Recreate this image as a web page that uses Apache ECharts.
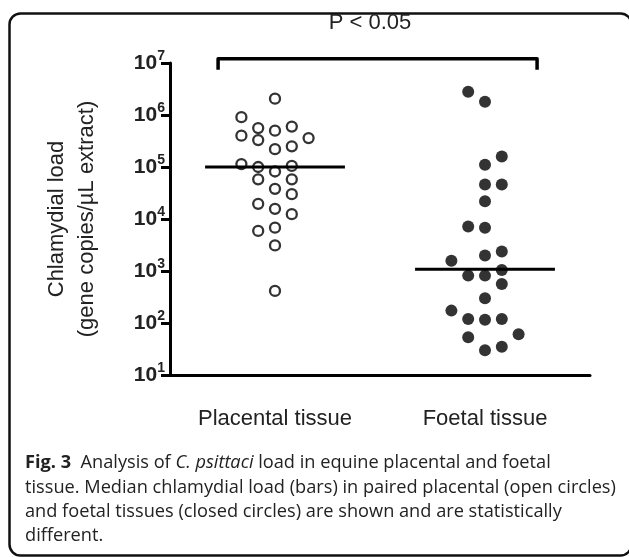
<!DOCTYPE html>
<html>
<head>
<meta charset="utf-8">
<script src="https://cdn.jsdelivr.net/npm/echarts@6/dist/echarts.min.js"></script>
<style>
html,body{margin:0;padding:0;background:#fff;}
#chart{width:629px;height:557px;}
</style>
</head>
<body>
<div id="chart"></div>
<script>
// ---- data ----
const categories = ['Placental tissue', 'Foetal tissue'];
// loads (gene copies/µL extract)
const placentalValues = [2.06e6, 9.1e5, 5.6e5, 5.0e5, 6.0e5, 4.0e5, 3.3e5, 3.6e5, 2.2e5, 2.5e5,
  1.14e5, 1.0e5, 8.2e4, 1.05e5, 5.8e4, 5.8e4, 3.8e4, 3.0e4, 1.96e4, 1.57e4, 1.24e4, 5.9e3, 6.8e3, 3.1e3, 414];
const placentalSlot = [0, -2, -1, 0, 1, -2, -1, 2, 0, 1, -2, -1, 0, 1, -1, 1, 0, 1, -1, 0, 1, -1, 0, 0, 0];
const foetalValues = [2.8e6, 1.8e6, 1.6e5, 1.1e5, 4.6e4, 4.6e4, 2.2e4, 7.2e3, 6.8e3, 1.58e3, 1.98e3, 2.36e3,
  815, 815, 1.05e3, 565, 299, 173, 120, 115, 120, 53, 61, 30, 35];
const foetalSlot = [-1, 0, 1, 0, 0, 1, 0, -1, 0, -2, 0, 1, -1, 0, 1, 1, 0, -2, -1, 0, 1, -1, 2, 0, 1];
const medians = [1.0e5, 1.08e3];
const yTickExponents = [1, 2, 3, 4, 5, 6, 7];
const pText = 'P < 0.05';

// ---- layout helpers ----
const slotWidth = 0.08;
const medianHalf = 0.333;
function pts(cat, vals, slots) { return vals.map((v, i) => [cat + slots[i] * slotWidth, v]); }

const chart = echarts.init(document.getElementById('chart'), null, {renderer: 'canvas'});
const font = '"Liberation Sans", Arial, sans-serif';
const capFont = '"Open Sans", "Noto Sans", sans-serif';
const capSize = 18.2;

const option = {
  animation: false,
  backgroundColor: '#fff',
  grid: {left: 170, top: 63, right: 39, bottom: 182, containLabel: false},
  xAxis: [
    {
      type: 'category', data: categories, boundaryGap: true,
      axisLine: {onZero: false, lineStyle: {color: '#000', width: 3}},
      axisTick: {alignWithLabel: true, length: 8, lineStyle: {color: '#000', width: 3}},
      axisLabel: {color: '#222', fontSize: 22, fontFamily: font, margin: 33},
      splitLine: {show: false}
    },
    {type: 'value', min: -0.5, max: 1.5, show: false}
  ],
  yAxis: {
    type: 'log', logBase: 10,
    min: Math.pow(10, yTickExponents[0]), max: Math.pow(10, yTickExponents[yTickExponents.length - 1]),
    splitNumber: 6,
    name: 'Chlamydial load\n(gene copies/µL extract)',
    nameLocation: 'middle', nameRotate: 90, nameGap: 68,
    nameTextStyle: {color: '#222', fontSize: 22, fontFamily: font, lineHeight: 30},
    axisLine: {show: true, onZero: false, lineStyle: {color: '#000', width: 3}},
    axisTick: {show: true, length: 9, lineStyle: {color: '#000', width: 3}},
    splitLine: {show: false},
    minorTick: {show: false},
    axisLabel: {
      margin: 5,
      formatter: function (v) {
        const e = Math.round(Math.log10(v));
        return '{b|10}{s|' + e + '}';
      },
      rich: {
        b: {fontSize: 21, fontWeight: 'bold', fontFamily: font, color: '#222', lineHeight: 28},
        s: {fontSize: 14, fontWeight: 'bold', fontFamily: font, color: '#222', verticalAlign: 'top', lineHeight: 13}
      }
    }
  },
  series: [
    {
      type: 'scatter', xAxisIndex: 1, data: pts(0, placentalValues, placentalSlot),
      symbol: 'circle', symbolSize: 10,
      itemStyle: {color: '#fff', borderColor: '#000', borderWidth: 2.3}
    },
    {
      type: 'scatter', xAxisIndex: 1, data: pts(1, foetalValues, foetalSlot),
      symbol: 'circle', symbolSize: 12,
      itemStyle: {color: '#000'}
    },
    {
      type: 'line', xAxisIndex: 1, symbol: 'none', silent: true,
      data: [[0 - medianHalf, medians[0]], [0 + medianHalf, medians[0]]],
      lineStyle: {color: '#000', width: 3}
    },
    {
      type: 'line', xAxisIndex: 1, symbol: 'none', silent: true,
      data: [[1 - medianHalf, medians[1]], [1 + medianHalf, medians[1]]],
      lineStyle: {color: '#000', width: 3}
    },
    {
      type: 'line', xAxisIndex: 1, symbol: 'none', silent: true, clip: false,
      data: [[-0.271, 7.4e6], [-0.271, 1.21e7], [1.248, 1.21e7], [1.248, 7.4e6]],
      lineStyle: {color: '#000', width: 3.5, join: 'round'}
    }
  ],
  graphic: [
    {
      type: 'rect', silent: true,
      shape: {x: 9.5, y: 13.5, width: 622, height: 542, r: 11},
      style: {fill: 'none', stroke: '#111', lineWidth: 2.5}
    },
    {
      type: 'text', x: 370, y: 23, silent: true,
      style: {text: pText, fontSize: 22, fontFamily: font, fill: '#222', align: 'center', verticalAlign: 'middle'}
    },
    {
      type: 'text', x: 25, y: 463, silent: true,
      style: {
        text: '{b|Fig. 3}  Analysis of {i|C. psittaci} load in equine placental and foetal',
        fontSize: capSize, fontFamily: capFont, fill: '#222', verticalAlign: 'middle',
        rich: {
          b: {fontSize: capSize, fontFamily: capFont, fontWeight: 'bold', fill: '#222'},
          i: {fontSize: capSize, fontFamily: capFont, fontStyle: 'italic', fill: '#222'}
        }
      }
    },
    {
      type: 'text', x: 25, y: 488, silent: true,
      style: {text: 'tissue. Median chlamydial load (bars) in paired placental (open circles)', fontSize: capSize, fontFamily: capFont, fill: '#222', verticalAlign: 'middle'}
    },
    {
      type: 'text', x: 25, y: 512, silent: true,
      style: {text: 'and foetal tissues (closed circles) are shown and are statistically', fontSize: capSize, fontFamily: capFont, fill: '#222', verticalAlign: 'middle'}
    },
    {
      type: 'text', x: 25, y: 536, silent: true,
      style: {text: 'different.', fontSize: capSize, fontFamily: capFont, fill: '#222', verticalAlign: 'middle'}
    }
  ]
};
chart.setOption(option);
</script>
</body>
</html>
